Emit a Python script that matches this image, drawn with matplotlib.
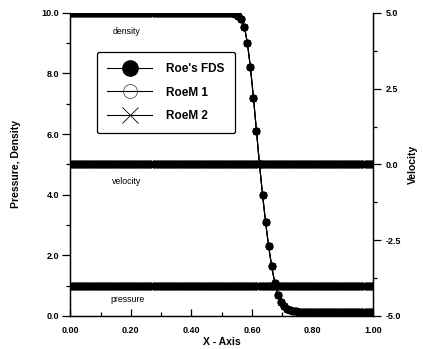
import numpy as np
import matplotlib
matplotlib.use("Agg")
import matplotlib.pyplot as plt
from matplotlib.lines import Line2D
from matplotlib.ticker import MultipleLocator, FormatStrFormatter

plt.rcParams['font.family'] = ['Liberation Sans', 'DejaVu Sans']

# ---- data (cell centres, 100 cells) ----
x = np.arange(100) * 0.01 + 0.005

density_head = [10.0] * 53
density_transition = [9.99, 9.96, 9.9, 9.8, 9.55, 9.0, 8.2, 7.2, 6.1, 5.0,
                      4.0, 3.1, 2.3, 1.65, 1.1, 0.7, 0.45, 0.32, 0.24, 0.19,
                      0.16, 0.15]
density_tail = [0.14] * (100 - 53 - 22)
density = np.array(density_head + density_transition + density_tail)

pressure = np.array([1.0] * 100)
velocity = np.array([0.0] * 100)

methods = ["Roe's FDS", "RoeM 1", "RoeM 2"]
left_ticks = [0, 2, 4, 6, 8, 10]
right_ticks = [-5.0, -2.5, 0.0, 2.5, 5.0]
x_ticks = [0.0, 0.2, 0.4, 0.6, 0.8, 1.0]

# ---- figure ----
fig = plt.figure(figsize=(4.23, 3.49), dpi=100)
ax = fig.add_axes([0.166, 0.095, 0.716, 0.868])
ax2 = ax.twinx()

styles = [dict(marker='o', mfc='black', mec='black', ms=4.9),
          dict(marker='o', mfc='none', mec='black', ms=4.9, mew=0.6),
          dict(marker='x', mfc='none', mec='black', ms=4.9, mew=0.9)]

for st in styles:
    ax.plot(x, density, color='black', lw=0.8, **st)
    ax.plot(x, pressure, color='black', lw=0.8, **st)
    ax2.plot(x, velocity, color='black', lw=0.8, **st)

ax.set_xlim(0, 1)
ax.set_ylim(0, 10)
ax2.set_ylim(-5, 5)

ax.set_xticks(x_ticks)
ax.xaxis.set_minor_locator(MultipleLocator(0.1))
ax.xaxis.set_major_formatter(FormatStrFormatter('%.2f'))
ax.set_yticks(left_ticks)
ax.yaxis.set_minor_locator(MultipleLocator(1))
ax.yaxis.set_major_formatter(FormatStrFormatter('%.1f'))
ax2.set_yticks(right_ticks)
ax2.yaxis.set_minor_locator(MultipleLocator(1.25))
ax2.yaxis.set_major_formatter(FormatStrFormatter('%.1f'))

for a in (ax, ax2):
    a.spines['top'].set_visible(False)
    for s in a.spines.values():
        s.set_linewidth(0.9)

ax.tick_params(axis='y', which='major', direction='out', length=6, width=0.9,
               labelsize=6.5, pad=2)
ax.tick_params(axis='y', which='minor', direction='out', length=3, width=0.9)
ax.tick_params(axis='x', which='major', direction='in', length=5, width=0.9,
               labelsize=6.5, pad=7)
ax.tick_params(axis='x', which='minor', direction='in', length=3, width=0.9)
ax2.tick_params(axis='y', which='major', direction='out', length=6, width=0.9,
                labelsize=6.5, pad=3)
ax2.tick_params(axis='y', which='minor', direction='out', length=3, width=0.9)
for lab in ax.get_xticklabels() + ax.get_yticklabels() + ax2.get_yticklabels():
    lab.set_fontweight('bold')

ax.set_xlabel('X - Axis', fontsize=7.5, fontweight='bold', labelpad=2)
ax.set_ylabel('Pressure, Density', fontsize=7.5, fontweight='bold', labelpad=15)
ax2.set_ylabel('Velocity', fontsize=7.5, fontweight='bold', labelpad=5)

ax.text(0.185, 9.37, 'density', fontsize=6.3, ha='center', va='center')
ax.text(0.185, 4.42, 'velocity', fontsize=6.3, ha='center', va='center')
ax.text(0.19, 0.53, 'pressure', fontsize=6.3, ha='center', va='center')

handles = [Line2D([], [], color='black', lw=0.8, marker='o', mfc='black', mec='black', ms=11),
           Line2D([], [], color='black', lw=0.8, marker='o', mfc='none', mec='black', ms=10, mew=0.4),
           Line2D([], [], color='black', lw=0.8, marker='x', mfc='none', mec='black', ms=11, mew=0.6)]
leg = ax.legend(handles, methods, loc='upper left', bbox_to_anchor=(0.068, 0.89),
                fontsize=8.5, frameon=True, fancybox=True, handlelength=3.8,
                handletextpad=1.2, labelspacing=1.0, borderpad=0.9)
leg.get_frame().set_edgecolor('black')
leg.get_frame().set_linewidth(0.9)
leg.get_frame().set_alpha(1)
for t in leg.get_texts():
    t.set_fontweight('bold')

fig.savefig('out.png', dpi=100)
